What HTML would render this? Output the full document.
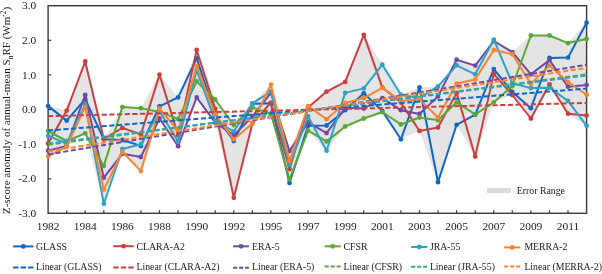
<!DOCTYPE html>
<html><head><meta charset="utf-8"><style>
html,body{margin:0;padding:0;background:#fff;}
svg{display:block;will-change:transform;}
text{font-family:"Liberation Serif",serif;fill:#1c1c1c;}
</style></head><body>
<svg width="602" height="274" viewBox="0 0 602 274">
<defs><filter id="b" x="-5%" y="-5%" width="110%" height="110%"><feGaussianBlur stdDeviation="0.3"/></filter></defs>
<rect width="602" height="274" fill="#fff"/>
<polygon fill="#e4e4e4" points="48.1,106.1 66.7,110.6 85.2,61.5 103.8,139.0 122.4,107.1 140.9,108.2 159.5,74.6 178.1,97.4 196.7,50.0 215.2,99.5 233.8,125.1 252.4,103.3 270.9,84.6 289.5,151.1 308.1,106.1 326.6,91.6 345.2,81.9 363.8,34.8 382.3,64.6 400.9,94.7 419.5,87.4 438.0,86.4 456.6,59.7 475.2,65.6 493.8,39.7 512.3,52.1 530.9,35.5 549.5,35.5 568.0,43.1 586.6,22.7 586.6,125.8 568.0,113.7 549.5,87.8 530.9,118.5 512.3,95.0 493.8,102.3 475.2,156.6 456.6,124.8 438.0,182.2 419.5,131.0 400.9,139.3 382.3,112.0 363.8,118.5 345.2,126.5 326.6,150.7 308.1,130.7 289.5,182.9 270.9,113.7 252.4,123.4 233.8,197.8 215.2,122.7 196.7,97.4 178.1,146.2 159.5,118.5 140.9,171.1 122.4,153.8 103.8,203.7 85.2,133.4 66.7,146.6 48.1,156.3"/>
<rect x="48.1" y="5.7" width="538.5" height="207.6" fill="none" stroke="#3a3a3a" stroke-width="1.4"/>
<line x1="48.1" y1="40.3" x2="51.3" y2="40.3" stroke="#3a3a3a" stroke-width="1.2"/>
<line x1="48.1" y1="74.9" x2="51.3" y2="74.9" stroke="#3a3a3a" stroke-width="1.2"/>
<line x1="48.1" y1="109.5" x2="51.3" y2="109.5" stroke="#3a3a3a" stroke-width="1.2"/>
<line x1="48.1" y1="144.2" x2="51.3" y2="144.2" stroke="#3a3a3a" stroke-width="1.2"/>
<line x1="48.1" y1="178.8" x2="51.3" y2="178.8" stroke="#3a3a3a" stroke-width="1.2"/>
<line x1="66.7" y1="213.4" x2="66.7" y2="210.2" stroke="#3a3a3a" stroke-width="1.2"/>
<line x1="85.2" y1="213.4" x2="85.2" y2="210.2" stroke="#3a3a3a" stroke-width="1.2"/>
<line x1="103.8" y1="213.4" x2="103.8" y2="210.2" stroke="#3a3a3a" stroke-width="1.2"/>
<line x1="122.4" y1="213.4" x2="122.4" y2="210.2" stroke="#3a3a3a" stroke-width="1.2"/>
<line x1="140.9" y1="213.4" x2="140.9" y2="210.2" stroke="#3a3a3a" stroke-width="1.2"/>
<line x1="159.5" y1="213.4" x2="159.5" y2="210.2" stroke="#3a3a3a" stroke-width="1.2"/>
<line x1="178.1" y1="213.4" x2="178.1" y2="210.2" stroke="#3a3a3a" stroke-width="1.2"/>
<line x1="196.7" y1="213.4" x2="196.7" y2="210.2" stroke="#3a3a3a" stroke-width="1.2"/>
<line x1="215.2" y1="213.4" x2="215.2" y2="210.2" stroke="#3a3a3a" stroke-width="1.2"/>
<line x1="233.8" y1="213.4" x2="233.8" y2="210.2" stroke="#3a3a3a" stroke-width="1.2"/>
<line x1="252.4" y1="213.4" x2="252.4" y2="210.2" stroke="#3a3a3a" stroke-width="1.2"/>
<line x1="270.9" y1="213.4" x2="270.9" y2="210.2" stroke="#3a3a3a" stroke-width="1.2"/>
<line x1="289.5" y1="213.4" x2="289.5" y2="210.2" stroke="#3a3a3a" stroke-width="1.2"/>
<line x1="308.1" y1="213.4" x2="308.1" y2="210.2" stroke="#3a3a3a" stroke-width="1.2"/>
<line x1="326.6" y1="213.4" x2="326.6" y2="210.2" stroke="#3a3a3a" stroke-width="1.2"/>
<line x1="345.2" y1="213.4" x2="345.2" y2="210.2" stroke="#3a3a3a" stroke-width="1.2"/>
<line x1="363.8" y1="213.4" x2="363.8" y2="210.2" stroke="#3a3a3a" stroke-width="1.2"/>
<line x1="382.3" y1="213.4" x2="382.3" y2="210.2" stroke="#3a3a3a" stroke-width="1.2"/>
<line x1="400.9" y1="213.4" x2="400.9" y2="210.2" stroke="#3a3a3a" stroke-width="1.2"/>
<line x1="419.5" y1="213.4" x2="419.5" y2="210.2" stroke="#3a3a3a" stroke-width="1.2"/>
<line x1="438.0" y1="213.4" x2="438.0" y2="210.2" stroke="#3a3a3a" stroke-width="1.2"/>
<line x1="456.6" y1="213.4" x2="456.6" y2="210.2" stroke="#3a3a3a" stroke-width="1.2"/>
<line x1="475.2" y1="213.4" x2="475.2" y2="210.2" stroke="#3a3a3a" stroke-width="1.2"/>
<line x1="493.8" y1="213.4" x2="493.8" y2="210.2" stroke="#3a3a3a" stroke-width="1.2"/>
<line x1="512.3" y1="213.4" x2="512.3" y2="210.2" stroke="#3a3a3a" stroke-width="1.2"/>
<line x1="530.9" y1="213.4" x2="530.9" y2="210.2" stroke="#3a3a3a" stroke-width="1.2"/>
<line x1="549.5" y1="213.4" x2="549.5" y2="210.2" stroke="#3a3a3a" stroke-width="1.2"/>
<line x1="568.0" y1="213.4" x2="568.0" y2="210.2" stroke="#3a3a3a" stroke-width="1.2"/>
<polyline fill="none" stroke="#0c67c8" stroke-width="2" stroke-linejoin="round" points="48.1,106.1 66.7,120.6 85.2,99.2 103.8,139.3 122.4,140.0 140.9,145.9 159.5,106.4 178.1,97.4 196.7,58.3 215.2,114.7 233.8,141.0 252.4,103.7 270.9,103.3 289.5,182.9 308.1,125.8 326.6,125.5 345.2,110.2 363.8,93.3 382.3,110.9 400.9,139.3 419.5,87.4 438.0,182.2 456.6,124.8 475.2,114.7 493.8,69.1 512.3,91.9 530.9,108.2 549.5,58.0 568.0,57.6 586.6,22.7"/>
<circle cx="48.1" cy="106.1" r="2.4" fill="#0c67c8"/>
<circle cx="66.7" cy="120.6" r="2.4" fill="#0c67c8"/>
<circle cx="85.2" cy="99.2" r="2.4" fill="#0c67c8"/>
<circle cx="103.8" cy="139.3" r="2.4" fill="#0c67c8"/>
<circle cx="122.4" cy="140.0" r="2.4" fill="#0c67c8"/>
<circle cx="140.9" cy="145.9" r="2.4" fill="#0c67c8"/>
<circle cx="159.5" cy="106.4" r="2.4" fill="#0c67c8"/>
<circle cx="178.1" cy="97.4" r="2.4" fill="#0c67c8"/>
<circle cx="196.7" cy="58.3" r="2.4" fill="#0c67c8"/>
<circle cx="215.2" cy="114.7" r="2.4" fill="#0c67c8"/>
<circle cx="233.8" cy="141.0" r="2.4" fill="#0c67c8"/>
<circle cx="252.4" cy="103.7" r="2.4" fill="#0c67c8"/>
<circle cx="270.9" cy="103.3" r="2.4" fill="#0c67c8"/>
<circle cx="289.5" cy="182.9" r="2.4" fill="#0c67c8"/>
<circle cx="308.1" cy="125.8" r="2.4" fill="#0c67c8"/>
<circle cx="326.6" cy="125.5" r="2.4" fill="#0c67c8"/>
<circle cx="345.2" cy="110.2" r="2.4" fill="#0c67c8"/>
<circle cx="363.8" cy="93.3" r="2.4" fill="#0c67c8"/>
<circle cx="382.3" cy="110.9" r="2.4" fill="#0c67c8"/>
<circle cx="400.9" cy="139.3" r="2.4" fill="#0c67c8"/>
<circle cx="419.5" cy="87.4" r="2.4" fill="#0c67c8"/>
<circle cx="438.0" cy="182.2" r="2.4" fill="#0c67c8"/>
<circle cx="456.6" cy="124.8" r="2.4" fill="#0c67c8"/>
<circle cx="475.2" cy="114.7" r="2.4" fill="#0c67c8"/>
<circle cx="493.8" cy="69.1" r="2.4" fill="#0c67c8"/>
<circle cx="512.3" cy="91.9" r="2.4" fill="#0c67c8"/>
<circle cx="530.9" cy="108.2" r="2.4" fill="#0c67c8"/>
<circle cx="549.5" cy="58.0" r="2.4" fill="#0c67c8"/>
<circle cx="568.0" cy="57.6" r="2.4" fill="#0c67c8"/>
<circle cx="586.6" cy="22.7" r="2.4" fill="#0c67c8"/>
<polyline fill="none" stroke="#c8403f" stroke-width="2" stroke-linejoin="round" points="48.1,143.5 66.7,110.6 85.2,61.5 103.8,139.0 122.4,127.9 140.9,134.5 159.5,74.6 178.1,135.2 196.7,50.0 215.2,108.9 233.8,197.8 252.4,123.4 270.9,102.6 289.5,169.1 308.1,107.5 326.6,91.6 345.2,81.9 363.8,34.8 382.3,87.4 400.9,102.6 419.5,131.0 438.0,127.5 456.6,92.9 475.2,156.6 493.8,73.9 512.3,95.0 530.9,118.5 549.5,84.3 568.0,113.7 586.6,115.4"/>
<circle cx="48.1" cy="143.5" r="2.4" fill="#c8403f"/>
<circle cx="66.7" cy="110.6" r="2.4" fill="#c8403f"/>
<circle cx="85.2" cy="61.5" r="2.4" fill="#c8403f"/>
<circle cx="103.8" cy="139.0" r="2.4" fill="#c8403f"/>
<circle cx="122.4" cy="127.9" r="2.4" fill="#c8403f"/>
<circle cx="140.9" cy="134.5" r="2.4" fill="#c8403f"/>
<circle cx="159.5" cy="74.6" r="2.4" fill="#c8403f"/>
<circle cx="178.1" cy="135.2" r="2.4" fill="#c8403f"/>
<circle cx="196.7" cy="50.0" r="2.4" fill="#c8403f"/>
<circle cx="215.2" cy="108.9" r="2.4" fill="#c8403f"/>
<circle cx="233.8" cy="197.8" r="2.4" fill="#c8403f"/>
<circle cx="252.4" cy="123.4" r="2.4" fill="#c8403f"/>
<circle cx="270.9" cy="102.6" r="2.4" fill="#c8403f"/>
<circle cx="289.5" cy="169.1" r="2.4" fill="#c8403f"/>
<circle cx="308.1" cy="107.5" r="2.4" fill="#c8403f"/>
<circle cx="326.6" cy="91.6" r="2.4" fill="#c8403f"/>
<circle cx="345.2" cy="81.9" r="2.4" fill="#c8403f"/>
<circle cx="363.8" cy="34.8" r="2.4" fill="#c8403f"/>
<circle cx="382.3" cy="87.4" r="2.4" fill="#c8403f"/>
<circle cx="400.9" cy="102.6" r="2.4" fill="#c8403f"/>
<circle cx="419.5" cy="131.0" r="2.4" fill="#c8403f"/>
<circle cx="438.0" cy="127.5" r="2.4" fill="#c8403f"/>
<circle cx="456.6" cy="92.9" r="2.4" fill="#c8403f"/>
<circle cx="475.2" cy="156.6" r="2.4" fill="#c8403f"/>
<circle cx="493.8" cy="73.9" r="2.4" fill="#c8403f"/>
<circle cx="512.3" cy="95.0" r="2.4" fill="#c8403f"/>
<circle cx="530.9" cy="118.5" r="2.4" fill="#c8403f"/>
<circle cx="549.5" cy="84.3" r="2.4" fill="#c8403f"/>
<circle cx="568.0" cy="113.7" r="2.4" fill="#c8403f"/>
<circle cx="586.6" cy="115.4" r="2.4" fill="#c8403f"/>
<polyline fill="none" stroke="#7249a2" stroke-width="2" stroke-linejoin="round" points="48.1,150.7 66.7,145.9 85.2,95.0 103.8,177.7 122.4,153.8 140.9,157.0 159.5,118.5 178.1,146.2 196.7,97.4 215.2,122.7 233.8,135.2 252.4,116.5 270.9,92.9 289.5,151.1 308.1,122.4 326.6,133.1 345.2,107.8 363.8,108.5 382.3,98.1 400.9,110.2 419.5,114.0 438.0,96.4 456.6,59.7 475.2,65.6 493.8,41.0 512.3,52.1 530.9,74.3 549.5,60.1 568.0,86.7 586.6,85.0"/>
<circle cx="48.1" cy="150.7" r="2.4" fill="#7249a2"/>
<circle cx="66.7" cy="145.9" r="2.4" fill="#7249a2"/>
<circle cx="85.2" cy="95.0" r="2.4" fill="#7249a2"/>
<circle cx="103.8" cy="177.7" r="2.4" fill="#7249a2"/>
<circle cx="122.4" cy="153.8" r="2.4" fill="#7249a2"/>
<circle cx="140.9" cy="157.0" r="2.4" fill="#7249a2"/>
<circle cx="159.5" cy="118.5" r="2.4" fill="#7249a2"/>
<circle cx="178.1" cy="146.2" r="2.4" fill="#7249a2"/>
<circle cx="196.7" cy="97.4" r="2.4" fill="#7249a2"/>
<circle cx="215.2" cy="122.7" r="2.4" fill="#7249a2"/>
<circle cx="233.8" cy="135.2" r="2.4" fill="#7249a2"/>
<circle cx="252.4" cy="116.5" r="2.4" fill="#7249a2"/>
<circle cx="270.9" cy="92.9" r="2.4" fill="#7249a2"/>
<circle cx="289.5" cy="151.1" r="2.4" fill="#7249a2"/>
<circle cx="308.1" cy="122.4" r="2.4" fill="#7249a2"/>
<circle cx="326.6" cy="133.1" r="2.4" fill="#7249a2"/>
<circle cx="345.2" cy="107.8" r="2.4" fill="#7249a2"/>
<circle cx="363.8" cy="108.5" r="2.4" fill="#7249a2"/>
<circle cx="382.3" cy="98.1" r="2.4" fill="#7249a2"/>
<circle cx="400.9" cy="110.2" r="2.4" fill="#7249a2"/>
<circle cx="419.5" cy="114.0" r="2.4" fill="#7249a2"/>
<circle cx="438.0" cy="96.4" r="2.4" fill="#7249a2"/>
<circle cx="456.6" cy="59.7" r="2.4" fill="#7249a2"/>
<circle cx="475.2" cy="65.6" r="2.4" fill="#7249a2"/>
<circle cx="493.8" cy="41.0" r="2.4" fill="#7249a2"/>
<circle cx="512.3" cy="52.1" r="2.4" fill="#7249a2"/>
<circle cx="530.9" cy="74.3" r="2.4" fill="#7249a2"/>
<circle cx="549.5" cy="60.1" r="2.4" fill="#7249a2"/>
<circle cx="568.0" cy="86.7" r="2.4" fill="#7249a2"/>
<circle cx="586.6" cy="85.0" r="2.4" fill="#7249a2"/>
<polyline fill="none" stroke="#5ca836" stroke-width="2" stroke-linejoin="round" points="48.1,131.0 66.7,141.0 85.2,133.4 103.8,165.9 122.4,107.1 140.9,108.2 159.5,112.0 178.1,118.9 196.7,81.5 215.2,99.5 233.8,125.1 252.4,107.5 270.9,113.7 289.5,179.4 308.1,130.7 326.6,141.4 345.2,126.5 363.8,118.5 382.3,112.0 400.9,124.4 419.5,117.5 438.0,120.3 456.6,102.3 475.2,114.4 493.8,102.3 512.3,86.0 530.9,35.5 549.5,35.5 568.0,43.1 586.6,39.0"/>
<circle cx="48.1" cy="131.0" r="2.4" fill="#5ca836"/>
<circle cx="66.7" cy="141.0" r="2.4" fill="#5ca836"/>
<circle cx="85.2" cy="133.4" r="2.4" fill="#5ca836"/>
<circle cx="103.8" cy="165.9" r="2.4" fill="#5ca836"/>
<circle cx="122.4" cy="107.1" r="2.4" fill="#5ca836"/>
<circle cx="140.9" cy="108.2" r="2.4" fill="#5ca836"/>
<circle cx="159.5" cy="112.0" r="2.4" fill="#5ca836"/>
<circle cx="178.1" cy="118.9" r="2.4" fill="#5ca836"/>
<circle cx="196.7" cy="81.5" r="2.4" fill="#5ca836"/>
<circle cx="215.2" cy="99.5" r="2.4" fill="#5ca836"/>
<circle cx="233.8" cy="125.1" r="2.4" fill="#5ca836"/>
<circle cx="252.4" cy="107.5" r="2.4" fill="#5ca836"/>
<circle cx="270.9" cy="113.7" r="2.4" fill="#5ca836"/>
<circle cx="289.5" cy="179.4" r="2.4" fill="#5ca836"/>
<circle cx="308.1" cy="130.7" r="2.4" fill="#5ca836"/>
<circle cx="326.6" cy="141.4" r="2.4" fill="#5ca836"/>
<circle cx="345.2" cy="126.5" r="2.4" fill="#5ca836"/>
<circle cx="363.8" cy="118.5" r="2.4" fill="#5ca836"/>
<circle cx="382.3" cy="112.0" r="2.4" fill="#5ca836"/>
<circle cx="400.9" cy="124.4" r="2.4" fill="#5ca836"/>
<circle cx="419.5" cy="117.5" r="2.4" fill="#5ca836"/>
<circle cx="438.0" cy="120.3" r="2.4" fill="#5ca836"/>
<circle cx="456.6" cy="102.3" r="2.4" fill="#5ca836"/>
<circle cx="475.2" cy="114.4" r="2.4" fill="#5ca836"/>
<circle cx="493.8" cy="102.3" r="2.4" fill="#5ca836"/>
<circle cx="512.3" cy="86.0" r="2.4" fill="#5ca836"/>
<circle cx="530.9" cy="35.5" r="2.4" fill="#5ca836"/>
<circle cx="549.5" cy="35.5" r="2.4" fill="#5ca836"/>
<circle cx="568.0" cy="43.1" r="2.4" fill="#5ca836"/>
<circle cx="586.6" cy="39.0" r="2.4" fill="#5ca836"/>
<polyline fill="none" stroke="#30a2c6" stroke-width="2" stroke-linejoin="round" points="48.1,135.8 66.7,143.5 85.2,104.4 103.8,203.7 122.4,149.0 140.9,144.2 159.5,111.3 178.1,141.4 196.7,70.5 215.2,121.0 233.8,131.3 252.4,103.3 270.9,91.6 289.5,164.9 308.1,116.5 326.6,150.7 345.2,92.9 363.8,88.4 382.3,64.6 400.9,94.7 419.5,98.1 438.0,86.4 456.6,65.3 475.2,74.3 493.8,39.7 512.3,83.3 530.9,88.1 549.5,87.8 568.0,100.9 586.6,125.8"/>
<circle cx="48.1" cy="135.8" r="2.4" fill="#30a2c6"/>
<circle cx="66.7" cy="143.5" r="2.4" fill="#30a2c6"/>
<circle cx="85.2" cy="104.4" r="2.4" fill="#30a2c6"/>
<circle cx="103.8" cy="203.7" r="2.4" fill="#30a2c6"/>
<circle cx="122.4" cy="149.0" r="2.4" fill="#30a2c6"/>
<circle cx="140.9" cy="144.2" r="2.4" fill="#30a2c6"/>
<circle cx="159.5" cy="111.3" r="2.4" fill="#30a2c6"/>
<circle cx="178.1" cy="141.4" r="2.4" fill="#30a2c6"/>
<circle cx="196.7" cy="70.5" r="2.4" fill="#30a2c6"/>
<circle cx="215.2" cy="121.0" r="2.4" fill="#30a2c6"/>
<circle cx="233.8" cy="131.3" r="2.4" fill="#30a2c6"/>
<circle cx="252.4" cy="103.3" r="2.4" fill="#30a2c6"/>
<circle cx="270.9" cy="91.6" r="2.4" fill="#30a2c6"/>
<circle cx="289.5" cy="164.9" r="2.4" fill="#30a2c6"/>
<circle cx="308.1" cy="116.5" r="2.4" fill="#30a2c6"/>
<circle cx="326.6" cy="150.7" r="2.4" fill="#30a2c6"/>
<circle cx="345.2" cy="92.9" r="2.4" fill="#30a2c6"/>
<circle cx="363.8" cy="88.4" r="2.4" fill="#30a2c6"/>
<circle cx="382.3" cy="64.6" r="2.4" fill="#30a2c6"/>
<circle cx="400.9" cy="94.7" r="2.4" fill="#30a2c6"/>
<circle cx="419.5" cy="98.1" r="2.4" fill="#30a2c6"/>
<circle cx="438.0" cy="86.4" r="2.4" fill="#30a2c6"/>
<circle cx="456.6" cy="65.3" r="2.4" fill="#30a2c6"/>
<circle cx="475.2" cy="74.3" r="2.4" fill="#30a2c6"/>
<circle cx="493.8" cy="39.7" r="2.4" fill="#30a2c6"/>
<circle cx="512.3" cy="83.3" r="2.4" fill="#30a2c6"/>
<circle cx="530.9" cy="88.1" r="2.4" fill="#30a2c6"/>
<circle cx="549.5" cy="87.8" r="2.4" fill="#30a2c6"/>
<circle cx="568.0" cy="100.9" r="2.4" fill="#30a2c6"/>
<circle cx="586.6" cy="125.8" r="2.4" fill="#30a2c6"/>
<polyline fill="none" stroke="#f98533" stroke-width="2" stroke-linejoin="round" points="48.1,156.3 66.7,146.6 85.2,106.8 103.8,189.5 122.4,151.8 140.9,171.1 159.5,108.5 178.1,131.0 196.7,66.3 215.2,114.4 233.8,139.3 252.4,123.4 270.9,84.6 289.5,161.1 308.1,106.1 326.6,119.2 345.2,103.0 363.8,98.1 382.3,87.8 400.9,100.9 419.5,99.2 438.0,117.5 456.6,83.6 475.2,79.4 493.8,50.0 512.3,54.2 530.9,83.9 549.5,65.6 568.0,81.9 586.6,94.7"/>
<circle cx="48.1" cy="156.3" r="2.4" fill="#f98533"/>
<circle cx="66.7" cy="146.6" r="2.4" fill="#f98533"/>
<circle cx="85.2" cy="106.8" r="2.4" fill="#f98533"/>
<circle cx="103.8" cy="189.5" r="2.4" fill="#f98533"/>
<circle cx="122.4" cy="151.8" r="2.4" fill="#f98533"/>
<circle cx="140.9" cy="171.1" r="2.4" fill="#f98533"/>
<circle cx="159.5" cy="108.5" r="2.4" fill="#f98533"/>
<circle cx="178.1" cy="131.0" r="2.4" fill="#f98533"/>
<circle cx="196.7" cy="66.3" r="2.4" fill="#f98533"/>
<circle cx="215.2" cy="114.4" r="2.4" fill="#f98533"/>
<circle cx="233.8" cy="139.3" r="2.4" fill="#f98533"/>
<circle cx="252.4" cy="123.4" r="2.4" fill="#f98533"/>
<circle cx="270.9" cy="84.6" r="2.4" fill="#f98533"/>
<circle cx="289.5" cy="161.1" r="2.4" fill="#f98533"/>
<circle cx="308.1" cy="106.1" r="2.4" fill="#f98533"/>
<circle cx="326.6" cy="119.2" r="2.4" fill="#f98533"/>
<circle cx="345.2" cy="103.0" r="2.4" fill="#f98533"/>
<circle cx="363.8" cy="98.1" r="2.4" fill="#f98533"/>
<circle cx="382.3" cy="87.8" r="2.4" fill="#f98533"/>
<circle cx="400.9" cy="100.9" r="2.4" fill="#f98533"/>
<circle cx="419.5" cy="99.2" r="2.4" fill="#f98533"/>
<circle cx="438.0" cy="117.5" r="2.4" fill="#f98533"/>
<circle cx="456.6" cy="83.6" r="2.4" fill="#f98533"/>
<circle cx="475.2" cy="79.4" r="2.4" fill="#f98533"/>
<circle cx="493.8" cy="50.0" r="2.4" fill="#f98533"/>
<circle cx="512.3" cy="54.2" r="2.4" fill="#f98533"/>
<circle cx="530.9" cy="83.9" r="2.4" fill="#f98533"/>
<circle cx="549.5" cy="65.6" r="2.4" fill="#f98533"/>
<circle cx="568.0" cy="81.9" r="2.4" fill="#f98533"/>
<circle cx="586.6" cy="94.7" r="2.4" fill="#f98533"/>
<line x1="48.1" y1="130.5" x2="586.6" y2="88.6" stroke="#0c67c8" stroke-width="2" stroke-dasharray="5.1 2.565"/>
<line x1="48.1" y1="116.1" x2="586.6" y2="103.0" stroke="#c8403f" stroke-width="2" stroke-dasharray="5.1 2.565"/>
<line x1="48.1" y1="154.4" x2="586.6" y2="64.7" stroke="#7249a2" stroke-width="2" stroke-dasharray="5.1 2.565"/>
<line x1="48.1" y1="144.7" x2="586.6" y2="74.4" stroke="#5ca836" stroke-width="2" stroke-dasharray="5.1 2.565"/>
<line x1="48.1" y1="143.6" x2="586.6" y2="75.5" stroke="#30a2c6" stroke-width="2" stroke-dasharray="5.1 2.565"/>
<line x1="48.1" y1="151.2" x2="586.6" y2="67.9" stroke="#f98533" stroke-width="2" stroke-dasharray="5.1 2.565"/>
<rect x="487" y="188" width="24" height="5" fill="#dcdcdc"/>
<line x1="13.1" y1="246.4" x2="33.5" y2="246.4" stroke="#0c67c8" stroke-width="2"/>
<circle cx="23.3" cy="246.4" r="2.4" fill="#0c67c8"/>
<line x1="13.1" y1="267.6" x2="33.5" y2="267.6" stroke="#0c67c8" stroke-width="2" stroke-dasharray="5.4 2.1"/>
<line x1="113.3" y1="246.2" x2="133.8" y2="246.2" stroke="#c8403f" stroke-width="2"/>
<circle cx="123.6" cy="246.2" r="2.4" fill="#c8403f"/>
<line x1="113.3" y1="267.6" x2="133.8" y2="267.6" stroke="#c8403f" stroke-width="2" stroke-dasharray="5.4 2.1"/>
<line x1="233.1" y1="246.3" x2="248.9" y2="246.3" stroke="#7249a2" stroke-width="2"/>
<circle cx="241.0" cy="246.3" r="2.4" fill="#7249a2"/>
<line x1="233.1" y1="267.7" x2="248.9" y2="267.7" stroke="#7249a2" stroke-width="2" stroke-dasharray="4.1 1.9"/>
<line x1="324.6" y1="246.3" x2="340.6" y2="246.3" stroke="#5ca836" stroke-width="2"/>
<circle cx="332.6" cy="246.3" r="2.4" fill="#5ca836"/>
<line x1="324.6" y1="266.5" x2="340.6" y2="266.5" stroke="#5ca836" stroke-width="2" stroke-dasharray="4.1 1.9"/>
<line x1="411.1" y1="247.0" x2="427.3" y2="247.0" stroke="#30a2c6" stroke-width="2"/>
<circle cx="419.2" cy="247.0" r="2.4" fill="#30a2c6"/>
<line x1="411.1" y1="266.8" x2="427.3" y2="266.8" stroke="#30a2c6" stroke-width="2" stroke-dasharray="4.1 1.9"/>
<line x1="504.1" y1="247.4" x2="520.3" y2="247.4" stroke="#f98533" stroke-width="2"/>
<circle cx="512.2" cy="247.4" r="2.4" fill="#f98533"/>
<line x1="504.1" y1="266.5" x2="520.3" y2="266.5" stroke="#f98533" stroke-width="2" stroke-dasharray="4.1 1.9"/>
<g filter="url(#b)">
<text x="36.2" y="9.3" text-anchor="end" font-size="11.4">3.0</text>
<text x="36.2" y="43.9" text-anchor="end" font-size="11.4">2.0</text>
<text x="36.2" y="78.5" text-anchor="end" font-size="11.4">1.0</text>
<text x="36.2" y="113.1" text-anchor="end" font-size="11.4">0.0</text>
<text x="36.2" y="147.8" text-anchor="end" font-size="11.4">-1.0</text>
<text x="36.2" y="182.3" text-anchor="end" font-size="11.4">-2.0</text>
<text x="36.2" y="217.0" text-anchor="end" font-size="11.4">-3.0</text>
<text x="48.1" y="229.6" text-anchor="middle" font-size="11.4">1982</text>
<text x="85.2" y="229.6" text-anchor="middle" font-size="11.4">1984</text>
<text x="122.4" y="229.6" text-anchor="middle" font-size="11.4">1986</text>
<text x="159.5" y="229.6" text-anchor="middle" font-size="11.4">1988</text>
<text x="196.7" y="229.6" text-anchor="middle" font-size="11.4">1990</text>
<text x="233.8" y="229.6" text-anchor="middle" font-size="11.4">1992</text>
<text x="270.9" y="229.6" text-anchor="middle" font-size="11.4">1995</text>
<text x="308.1" y="229.6" text-anchor="middle" font-size="11.4">1997</text>
<text x="345.2" y="229.6" text-anchor="middle" font-size="11.4">1999</text>
<text x="382.3" y="229.6" text-anchor="middle" font-size="11.4">2001</text>
<text x="419.5" y="229.6" text-anchor="middle" font-size="11.4">2003</text>
<text x="456.6" y="229.6" text-anchor="middle" font-size="11.4">2005</text>
<text x="493.8" y="229.6" text-anchor="middle" font-size="11.4">2007</text>
<text x="530.9" y="229.6" text-anchor="middle" font-size="11.4">2009</text>
<text x="568.0" y="229.6" text-anchor="middle" font-size="11.4">2011</text>
<text transform="translate(10.4,110.4) rotate(-90)" text-anchor="middle" font-size="11.0">Z-score anomaly of annual-mean S<tspan font-size="8" dy="2.2">n</tspan><tspan dy="-2.2">RF (Wm</tspan><tspan font-size="7.5" dy="-4">-2</tspan><tspan dy="4">)</tspan></text>
<text x="516.8" y="194" font-size="9.8">Error Range</text>
<text x="36.0" y="249.6" font-size="9.8">GLASS</text>
<text x="36.0" y="270.3" font-size="9.8">Linear (GLASS)</text>
<text x="136.5" y="249.6" font-size="9.8">CLARA-A2</text>
<text x="136.5" y="270.3" font-size="9.8">Linear (CLARA-A2)</text>
<text x="252.0" y="249.6" font-size="9.8">ERA-5</text>
<text x="252.0" y="270.3" font-size="9.8">Linear (ERA-5)</text>
<text x="343.5" y="249.6" font-size="9.8">CFSR</text>
<text x="343.5" y="270.3" font-size="9.8">Linear (CFSR)</text>
<text x="429.9" y="249.6" font-size="9.8">JRA-55</text>
<text x="429.9" y="270.3" font-size="9.8">Linear (JRA-55)</text>
<text x="524.4" y="249.6" font-size="9.8">MERRA-2</text>
<text x="524.4" y="270.3" font-size="9.8">Linear (MERRA-2)</text>
</g>
</svg>
</body></html>
